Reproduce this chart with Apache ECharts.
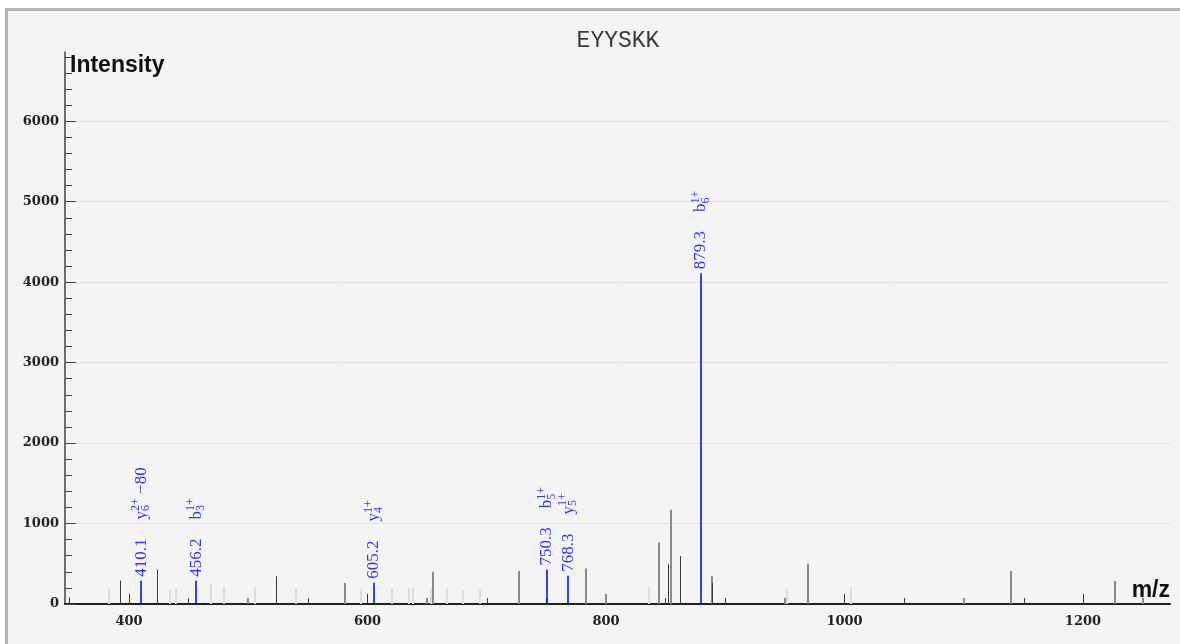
<!DOCTYPE html>
<html>
<head>
<meta charset="utf-8">
<script src="https://cdn.jsdelivr.net/npm/echarts@6/dist/echarts.min.js"></script>
<style>
  html, body { margin: 0; padding: 0; background: #ffffff; overflow: hidden; }
  #frame { position: absolute; left: 5px; top: 8px; width: 1200px; height: 700px; border: 3px solid #b4b4b4; background: #f4f4f4; }
  #chart { position: absolute; left: 0; top: 0; width: 1180px; height: 644px; }
</style>
</head>
<body>
<div id="frame"></div>
<div id="chart"></div>
<script>
// ---- data ----
const peptide = 'EYYSKK';
const xTickLabels = [400, 600, 800, 1000, 1200];
const yMajorTicks = [0, 1000, 2000, 3000, 4000, 5000, 6000];
const yMinorTicks = [200, 400, 600, 800, 1200, 1400, 1600, 1800, 2200, 2400, 2600, 2800,
  3200, 3400, 3600, 3800, 4200, 4400, 4600, 4800, 5200, 5400, 5600, 5800, 6200, 6400, 6600, 6800];

// unmatched peaks [m/z, intensity]
const darkPeaks = [
  [349.4, 80], [392.7, 290], [399.7, 130], [423.7, 430], [449.7, 75], [523.0, 345],
  [549.9, 75], [599.8, 125], [700.0, 75], [749.9, 75], [849.7, 75], [852.2, 500],
  [862.3, 595], [889.2, 260], [900.0, 75], [999.8, 125], [1050.2, 75], [1150.3, 75], [1200.2, 125]
];
const midPeaks = [
  [499.8, 75], [580.9, 260], [649.9, 75], [654.9, 400], [727.0, 410], [783.5, 440],
  [800.0, 125], [844.4, 765], [854.5, 1170], [888.6, 345], [950.1, 75], [969.4, 500],
  [1100.2, 75], [1139.6, 410], [1226.8, 285], [1250.6, 75]
];
const lightPeaks = [
  [383.0, 200], [434.6, 180], [439.7, 200], [469.0, 245], [479.9, 225], [505.9, 210],
  [540.0, 200], [594.3, 190], [620.8, 200], [635.1, 200], [637.9, 190], [653.0, 200],
  [666.9, 200], [680.1, 175], [694.1, 180], [836.3, 210], [952.0, 185], [1005.5, 220]
];

// matched (annotated) peaks
const matchedMz = [410.1, 456.2, 605.2, 750.3, 768.3, 879.3];
const matchedIntensity = [290, 290, 265, 430, 350, 4110];
const ionBase = ['y', 'b', 'y', 'b', 'y', 'b'];
const ionSub = ['6', '3', '4', '5', '5', '6'];
const ionSup = ['2+', '1+', '1+', '1+', '1+', '1+'];
const ionSuffix = [' \u221280', '', '', '', '', ''];

// ---- chart ----
const chart = echarts.init(document.getElementById('chart'), null, { renderer: 'canvas' });

function stickSeries(name, data, color, width, snap, z) {
  return {
    name: name,
    type: 'custom',
    data: data,
    silent: true,
    z: z,
    itemStyle: { color: color, borderColor: color },
    emphasis: { disabled: true },
    renderItem: function (params, api) {
      const p0 = api.coord([api.value(0), 0]);
      const p1 = api.coord([api.value(0), api.value(1)]);
      const x = Math.round(p0[0]) + snap;
      return {
        type: 'line',
        z2: z,
        shape: { x1: x, y1: p0[1], x2: x, y2: p1[1] },
        style: { stroke: color, fill: null, lineWidth: width, opacity: 1 }
      };
    }
  };
}

const matchedData = matchedMz.map((m, i) => ({
  value: [m, matchedIntensity[i]],
  label: {
    formatter: '{num|' + m.toFixed(1) + '}{gap| }{base|' + ionBase[i] + '}{sub|' + ionSub[i] + '}{sup|' + ionSup[i] + '}' +
      (ionSuffix[i] ? '{base|' + ionSuffix[i] + '}' : '')
  }
}));

const serif = 'Liberation Serif';
const labelRich = {
  num: { fontFamily: serif, fontSize: 17, color: '#0000ff', lineHeight: 22 },
  gap: { width: 19, fontSize: 17, lineHeight: 22 },
  base: { fontFamily: serif, fontSize: 17, color: '#0000ff', lineHeight: 22 },
  sub: { fontFamily: serif, fontSize: 12, color: '#0000ff', verticalAlign: 'bottom', lineHeight: 22, width: 0.01 },
  sup: { fontFamily: serif, fontSize: 12, color: '#0000ff', verticalAlign: 'top', lineHeight: 22 }
};

const plainNum = v => String(v);

const option = {
  backgroundColor: 'transparent',
  animation: false,
  grid: { left: 65, right: 10, top: 52, bottom: 40, containLabel: false },
  xAxis: {
    type: 'value',
    min: 346.3,
    max: 1273,
    axisLine: { show: true, onZero: false, lineStyle: { color: '#222', width: 2 } },
    axisTick: { show: false },
    splitLine: { show: false },
    axisLabel: {
      customValues: xTickLabels,
      formatter: plainNum,
      margin: 11,
      fontFamily: 'DejaVu Serif',
      fontWeight: 'bold',
      fontSize: 13,
      color: '#222'
    }
  },
  yAxis: [
    {
      type: 'value',
      min: 0,
      max: 6860,
      interval: 1000,
      position: 'left',
      axisLine: { show: true, lineStyle: { color: '#444', width: 1.5 } },
      axisTick: { show: false },
      splitLine: { show: true, showMinLine: false, showMaxLine: false, lineStyle: { color: '#e0e0e0', width: 1 } },
      axisLabel: {
        customValues: yMajorTicks,
        formatter: plainNum,
        margin: 6,
        fontFamily: 'DejaVu Serif',
        fontWeight: 'bold',
        fontSize: 13,
        color: '#222'
      }
    },
    {
      type: 'value',
      min: 0,
      max: 6860,
      position: 'left',
      axisLine: { show: false },
      axisLabel: { show: false },
      splitLine: { show: false },
      axisTick: { show: true, inside: true, length: 11, customValues: yMajorTicks, lineStyle: { color: '#444', width: 1 } }
    },
    {
      type: 'value',
      min: 0,
      max: 6860,
      position: 'left',
      axisLine: { show: false },
      axisLabel: { show: false },
      splitLine: { show: false },
      axisTick: { show: true, inside: true, length: 7, customValues: yMinorTicks, lineStyle: { color: '#444', width: 1 } }
    }
  ],
  graphic: [
    { type: 'text', x: 618, y: 41, silent: true, style: { text: peptide, textAlign: 'center', textVerticalAlign: 'middle', fontFamily: 'Liberation Mono', fontSize: 23, fill: '#3a3a3a' } },
    { type: 'text', x: 70, y: 66, silent: true, style: { text: 'Intensity', textAlign: 'left', textVerticalAlign: 'middle', fontFamily: 'Liberation Sans', fontWeight: 'bold', fontSize: 23, fill: '#111' } },
    { type: 'text', x: 1170, y: 591, silent: true, style: { text: 'm/z', textAlign: 'right', textVerticalAlign: 'middle', fontFamily: 'Liberation Sans', fontWeight: 'bold', fontSize: 23, fill: '#111' } }
  ],
  series: [
    stickSeries('light', lightPeaks, '#dcdcdc', 2, 0, 2),
    stickSeries('mid', midPeaks, '#8a8a8a', 2, 0, 3),
    stickSeries('dark', darkPeaks, '#3a3a3a', 1, 0.5, 4),
    stickSeries('matched', matchedMz.map((m, i) => [m, matchedIntensity[i]]), '#0000ff', 1.5, 0, 6),
    {
      name: 'labels',
      type: 'scatter',
      data: matchedData,
      symbolSize: 0,
      silent: true,
      z: 7,
      itemStyle: { color: '#0000ff' },
      label: {
        show: true,
        position: 'top',
        distance: 4,
        rotate: 90,
        align: 'left',
        verticalAlign: 'middle',
        rich: labelRich
      }
    }
  ]
};
chart.setOption(option);
</script>
</body>
</html>
